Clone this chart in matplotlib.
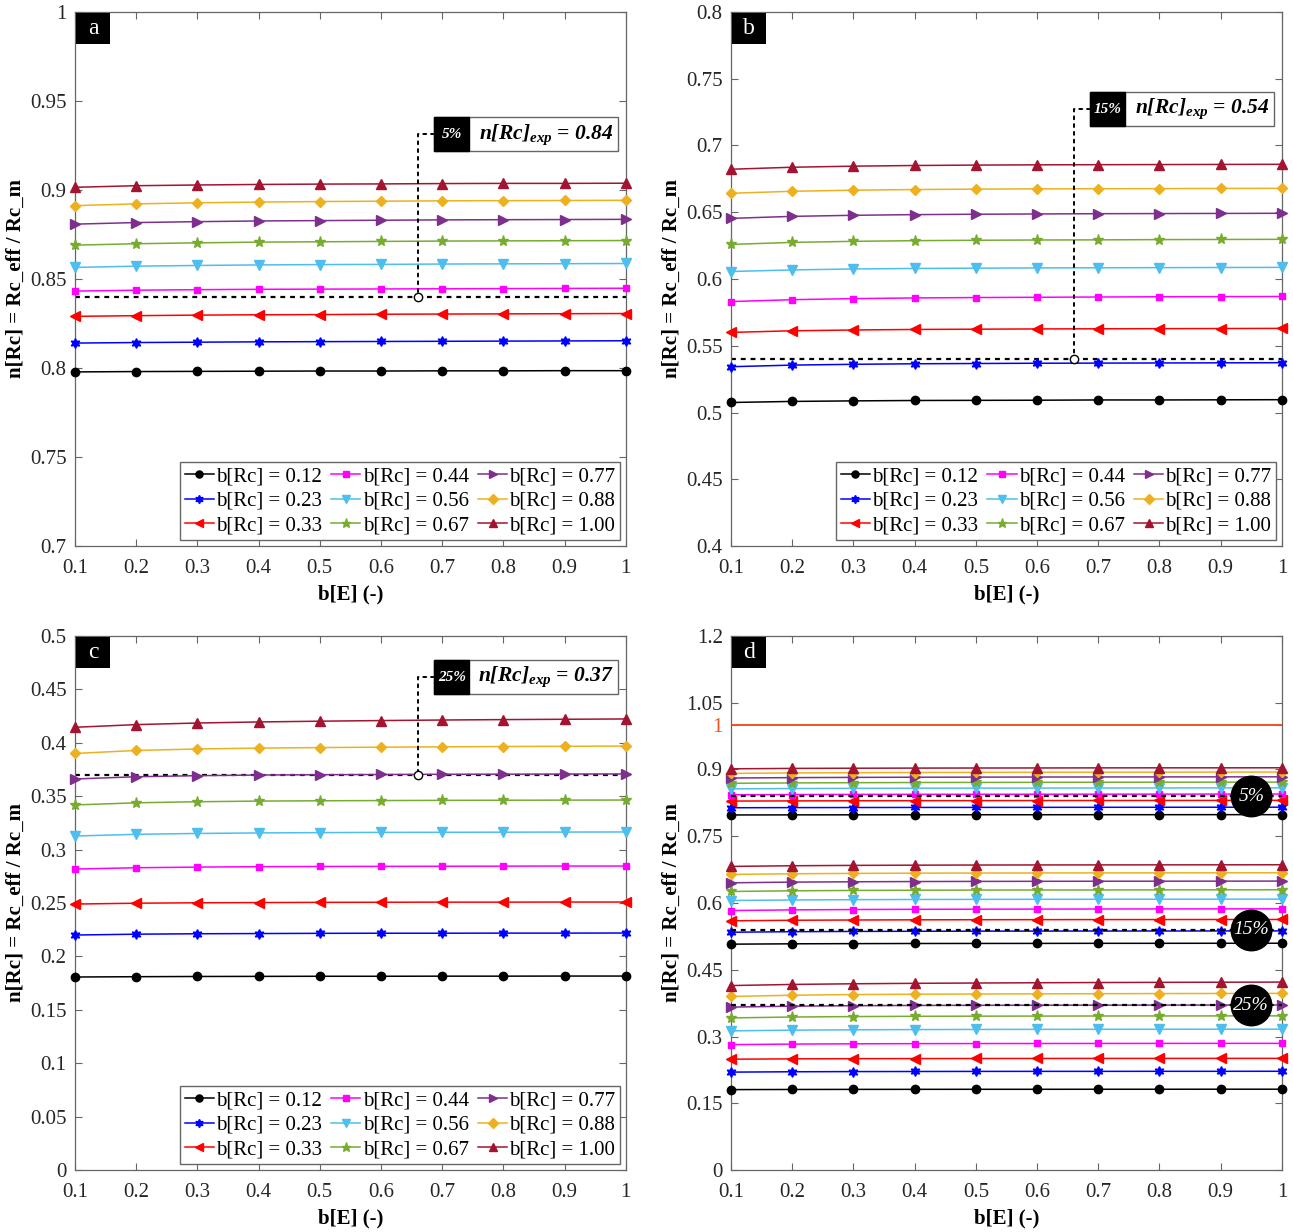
import numpy as np
import matplotlib
matplotlib.use("Agg")
import matplotlib.pyplot as plt
from matplotlib.patches import Rectangle
from matplotlib.ticker import FuncFormatter

plt.rcParams['font.family'] = ['Liberation Serif', 'DejaVu Serif']
plt.rcParams['mathtext.fontset'] = 'custom'
plt.rcParams['mathtext.it'] = 'Liberation Serif:bold:italic'
plt.rcParams['mathtext.rm'] = 'Liberation Serif:bold:italic'
plt.rcParams['mathtext.bf'] = 'Liberation Serif:bold:italic'

# ---- data ----
bE = [0.1, 0.2, 0.3, 0.4, 0.5, 0.6, 0.7, 0.8, 0.9, 1.0]
bRc = ["0.12", "0.23", "0.33", "0.44", "0.56", "0.67", "0.77", "0.88", "1.00"]

# 5 % case
n_a = [
    [0.7978, 0.7980, 0.7981, 0.7982, 0.7983, 0.7983, 0.7984, 0.7984, 0.7985, 0.7985],
    [0.8140, 0.8143, 0.8145, 0.8147, 0.8148, 0.8149, 0.8150, 0.8151, 0.8152, 0.8153],
    [0.8290, 0.8294, 0.8297, 0.8299, 0.8300, 0.8302, 0.8303, 0.8304, 0.8305, 0.8306],
    [0.8432, 0.8437, 0.8440, 0.8442, 0.8443, 0.8444, 0.8445, 0.8446, 0.8447, 0.8448],
    [0.8565, 0.8572, 0.8576, 0.8579, 0.8581, 0.8582, 0.8584, 0.8585, 0.8586, 0.8587],
    [0.8690, 0.8698, 0.8703, 0.8707, 0.8709, 0.8711, 0.8713, 0.8714, 0.8715, 0.8716],
    [0.8808, 0.8817, 0.8822, 0.8826, 0.8828, 0.8830, 0.8832, 0.8833, 0.8834, 0.8835],
    [0.8912, 0.8922, 0.8928, 0.8932, 0.8935, 0.8937, 0.8939, 0.8940, 0.8941, 0.8942],
    [0.9015, 0.9024, 0.9028, 0.9031, 0.9033, 0.9034, 0.9036, 0.9037, 0.9037, 0.9038],
]
# 15 % case
n_b = [
    [0.5075, 0.5083, 0.5087, 0.5090, 0.5091, 0.5092, 0.5094, 0.5094, 0.5095, 0.5096],
    [0.5343, 0.5355, 0.5361, 0.5365, 0.5367, 0.5369, 0.5370, 0.5371, 0.5372, 0.5373],
    [0.5600, 0.5612, 0.5618, 0.5622, 0.5624, 0.5626, 0.5627, 0.5628, 0.5629, 0.5630],
    [0.5831, 0.5845, 0.5853, 0.5858, 0.5861, 0.5863, 0.5865, 0.5867, 0.5868, 0.5869],
    [0.6056, 0.6068, 0.6075, 0.6079, 0.6081, 0.6083, 0.6084, 0.6085, 0.6086, 0.6087],
    [0.6259, 0.6274, 0.6282, 0.6287, 0.6290, 0.6292, 0.6293, 0.6295, 0.6296, 0.6297],
    [0.6454, 0.6469, 0.6477, 0.6482, 0.6485, 0.6487, 0.6489, 0.6490, 0.6491, 0.6492],
    [0.6642, 0.6657, 0.6665, 0.6670, 0.6673, 0.6675, 0.6676, 0.6677, 0.6678, 0.6679],
    [0.6822, 0.6837, 0.6845, 0.6850, 0.6853, 0.6855, 0.6856, 0.6857, 0.6858, 0.6859],
]
# 25 % case
n_c = [
    [0.1807, 0.1810, 0.1812, 0.1813, 0.1814, 0.1814, 0.1815, 0.1815, 0.1816, 0.1816],
    [0.2200, 0.2208, 0.2212, 0.2214, 0.2216, 0.2217, 0.2217, 0.2218, 0.2218, 0.2219],
    [0.2490, 0.2498, 0.2502, 0.2504, 0.2506, 0.2507, 0.2508, 0.2508, 0.2509, 0.2509],
    [0.2818, 0.2830, 0.2836, 0.2840, 0.2842, 0.2843, 0.2844, 0.2845, 0.2846, 0.2846],
    [0.3127, 0.3143, 0.3151, 0.3156, 0.3159, 0.3161, 0.3162, 0.3163, 0.3164, 0.3165],
    [0.3418, 0.3438, 0.3448, 0.3454, 0.3457, 0.3459, 0.3461, 0.3462, 0.3463, 0.3464],
    [0.3661, 0.3682, 0.3692, 0.3698, 0.3701, 0.3703, 0.3705, 0.3706, 0.3707, 0.3708],
    [0.3900, 0.3928, 0.3942, 0.3950, 0.3955, 0.3959, 0.3962, 0.3965, 0.3967, 0.3969],
    [0.4145, 0.4170, 0.4185, 0.4195, 0.4202, 0.4208, 0.4213, 0.4217, 0.4220, 0.4223],
]

n_exp = [0.84, 0.54, 0.37]
pct = ["5%", "15%", "25%"]
x_exp = 0.66

colors = ['k', '#0000FF', '#FF0000', '#FF00FF', '#4DBEEE', '#77AC30', '#7E2F8E', '#EDB120', '#A2142F']
markers = ['o', (6, 1, 0), '<', 's', 'v', '*', '>', 'D', '^']
msizes = [6, 7, 7, 5, 7, 8, 7, 5.5, 7]

axcol = '#666666'
fs = 15


def fmt(v, pos):
    return '%g' % v


def style(ax, ylim, yticks, letter):
    ax.set_xlim(0.1, 1.0)
    ax.set_ylim(*ylim)
    ax.set_xticks(bE)
    ax.set_yticks(yticks)
    ax.xaxis.set_major_formatter(FuncFormatter(fmt))
    ax.yaxis.set_major_formatter(FuncFormatter(fmt))
    ax.tick_params(direction='in', top=True, right=True, length=5, width=0.8,
                   color=axcol, labelcolor='#262626', labelsize=fs)
    ax.tick_params(axis='x', pad=9)
    ax.tick_params(axis='y', pad=6)
    for s in ax.spines.values():
        s.set_color(axcol)
        s.set_linewidth(0.9)
    ax.set_xlabel('b[E] (-)', fontsize=fs, fontweight='bold', labelpad=5)
    ax.set_ylabel('n[Rc] = Rc_eff / Rc_m', fontsize=fs, fontweight='bold', labelpad=3)
    ax.add_patch(Rectangle((0.002, 0.94), 0.062, 0.058, transform=ax.transAxes,
                           facecolor='black', edgecolor='none', zorder=10))
    ax.text(0.033, 0.969, letter, transform=ax.transAxes, color='white', fontsize=17,
            ha='center', va='center', zorder=11)


def draw_series(ax, data, label=True):
    for i, ys in enumerate(data):
        ax.plot(bE, ys, color=colors[i], marker=markers[i], ms=msizes[i], lw=1.1,
                label=('b[Rc] = ' + bRc[i]) if label else None, clip_on=False, zorder=3)


def exp_box(ax, yexp, p, box_y):
    ax.plot([bE[0], bE[-1]], [yexp, yexp], color='k', ls=(0, (2.2, 2.2)), lw=1.6, zorder=2)
    ax.plot([x_exp], [yexp], marker='o', ms=6, mfc='white', mec='k', mew=1.0, zorder=6)
    bx, bw, bh, kw = 0.652, 0.334, 0.064, 0.064
    ax.add_patch(Rectangle((bx, box_y - bh / 2), bw, bh, transform=ax.transAxes,
                           facecolor='white', edgecolor=axcol, lw=1.0, zorder=8))
    ax.add_patch(Rectangle((bx, box_y - bh / 2), kw, bh, transform=ax.transAxes,
                           facecolor='black', edgecolor='black', lw=1.0, zorder=9))
    ax.text(bx + kw / 2, box_y, p, transform=ax.transAxes, color='white', fontsize=11,
            fontweight='bold', fontstyle='italic', ha='center', va='center', zorder=10)
    ax.text(bx + kw + (bw - kw) / 2 + 0.004, box_y, r'$n[Rc]_{exp}$ = %.2f' % yexp,
            transform=ax.transAxes, fontsize=15.5, fontweight='bold', fontstyle='italic',
            ha='center', va='center', zorder=10)
    ax.annotate('', xy=(x_exp, yexp), xycoords='data', xytext=(bx, box_y),
                textcoords='axes fraction',
                arrowprops=dict(arrowstyle='-', connectionstyle='angle,angleA=0,angleB=90,rad=0',
                                ls=(0, (1.5, 2.5)), lw=1.4, color='k', shrinkA=0, shrinkB=0),
                zorder=5)


def legend(ax):
    ax.legend(loc='lower right', ncol=3, fontsize=fs, frameon=True, fancybox=False,
              edgecolor=axcol, handlelength=1.4, handletextpad=0.1, columnspacing=0.45,
              labelspacing=0.25, borderpad=0.2, borderaxespad=0.3, framealpha=1,
              markerscale=0.85)


fig = plt.figure(figsize=(12.93, 12.32), dpi=100)
W, H = 0.426, 0.4335
ax_a = fig.add_axes([0.058, 0.5568, W, H])
ax_b = fig.add_axes([0.5654, 0.5568, W, H])
ax_c = fig.add_axes([0.058, 0.0503, W, H])
ax_d = fig.add_axes([0.5654, 0.0503, W, H])

draw_series(ax_a, n_a)
style(ax_a, (0.7, 1.0), [0.7, 0.75, 0.8, 0.85, 0.9, 0.95, 1.0], 'a')
exp_box(ax_a, n_exp[0], pct[0], 0.771)
legend(ax_a)

draw_series(ax_b, n_b)
style(ax_b, (0.4, 0.8), [0.4, 0.45, 0.5, 0.55, 0.6, 0.65, 0.7, 0.75, 0.8], 'b')
exp_box(ax_b, n_exp[1], pct[1], 0.818)
legend(ax_b)

draw_series(ax_c, n_c)
style(ax_c, (0.0, 0.5), [0, 0.05, 0.1, 0.15, 0.2, 0.25, 0.3, 0.35, 0.4, 0.45, 0.5], 'c')
exp_box(ax_c, n_exp[2], pct[2], 0.923)
legend(ax_c)

# panel d: all three cases together
for data in (n_a, n_b, n_c):
    draw_series(ax_d, data, label=False)
for yexp in n_exp:
    ax_d.plot([bE[0], bE[-1]], [yexp, yexp], color='k', ls=(0, (2.2, 2.2)), lw=1.6, zorder=4)
ax_d.axhline(1.0, color='#F4511E', lw=1.4, zorder=2)
style(ax_d, (0.0, 1.2), [0, 0.15, 0.3, 0.45, 0.6, 0.75, 0.9, 1.0, 1.05, 1.2], 'd')
for lab in ax_d.get_yticklabels():
    if lab.get_text() == '1':
        lab.set_color('#F4511E')
ax_d.scatter([0.95] * 3, n_exp, s=850, color='black', zorder=12, clip_on=False)
for yexp, p in zip(n_exp, pct):
    ax_d.text(0.95, yexp, p, color='white', fontsize=14, fontstyle='italic',
              ha='center', va='center', zorder=13)

fig.savefig('out.png', dpi=100)
